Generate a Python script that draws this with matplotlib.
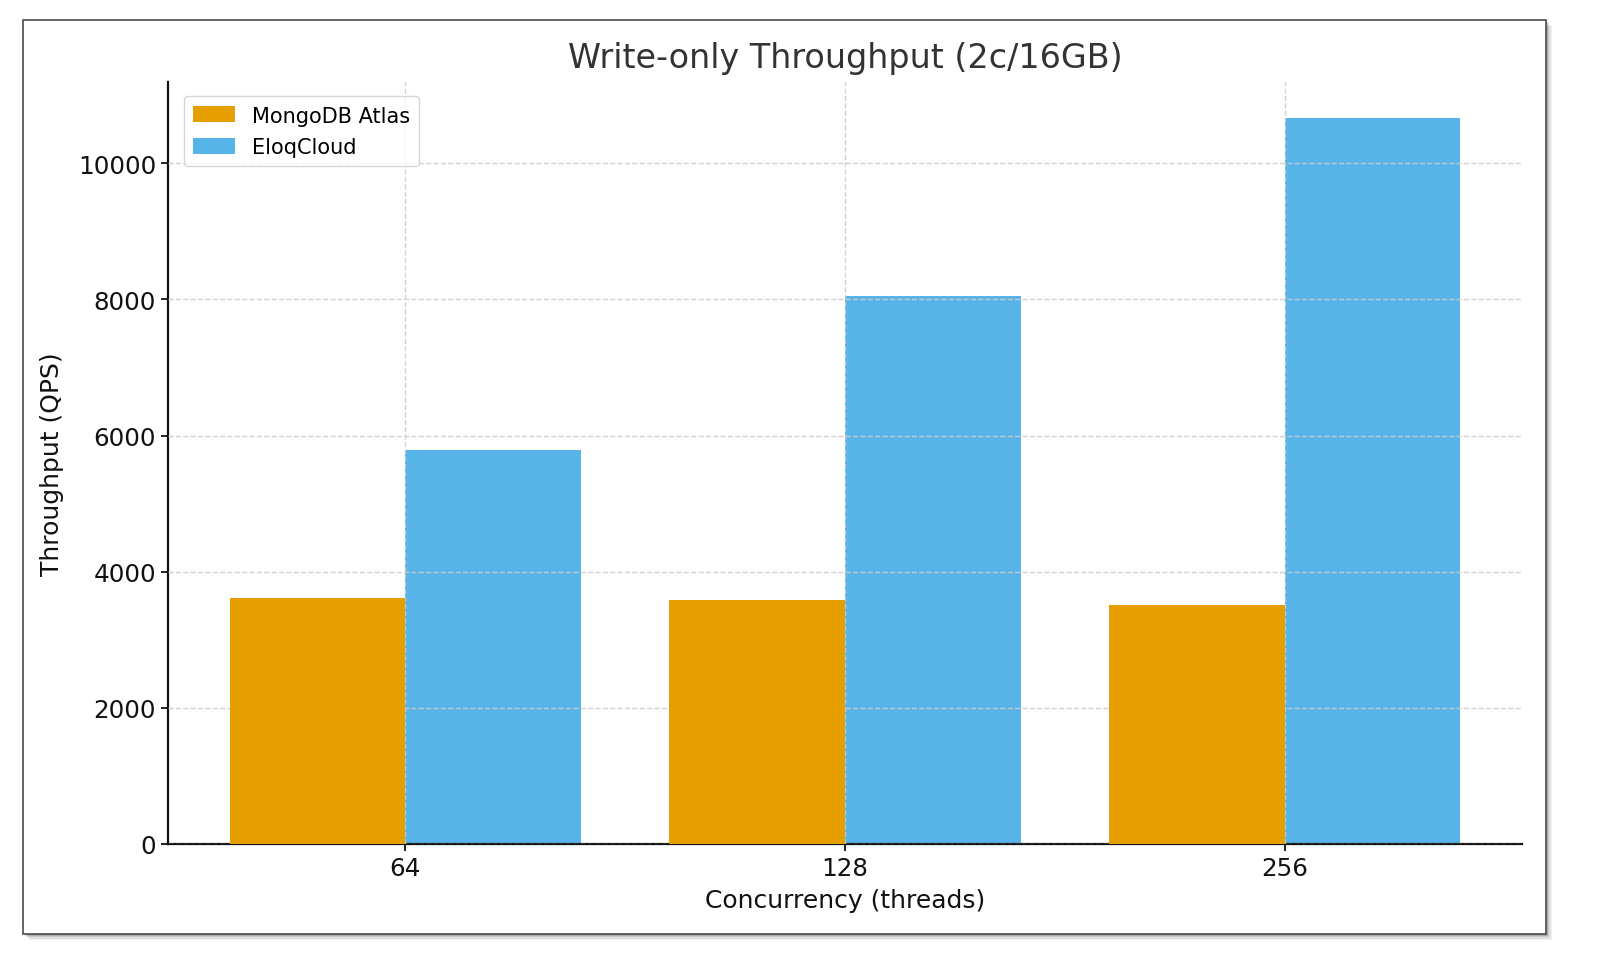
import matplotlib
matplotlib.use("Agg")
import matplotlib.pyplot as plt
from matplotlib.patches import Rectangle
import numpy as np

categories = ["64", "128", "256"]
mongodb_atlas = [3615, 3585, 3510]
eloqcloud = [5790, 8050, 10660]
series_names = ["MongoDB Atlas", "EloqCloud"]
colors = ["#E69F00", "#56B4E9"]

W, H = 1600, 979
fig = plt.figure(figsize=(W / 100, H / 100), dpi=100)
fig.patch.set_facecolor("white")

# outer frame with soft shadow
fx0, fx1, fy_top, fy_bot = 23, 1546, 21, 935
for i, a in enumerate([0.05, 0.07, 0.10, 0.14]):
    off = 6 - i * 1.3
    fig.patches.append(Rectangle(((fx0 + off) / W, (H - fy_bot - off) / H),
                                 (fx1 - fx0) / W, (fy_bot - fy_top) / H,
                                 transform=fig.transFigure, facecolor="black",
                                 edgecolor="none", alpha=a, zorder=-3))
fig.patches.append(Rectangle((fx0 / W, (H - fy_bot) / H), (fx1 - fx0) / W,
                             (fy_bot - fy_top) / H, transform=fig.transFigure,
                             facecolor="white", edgecolor="#4a4a4a",
                             linewidth=1.2, zorder=-2))

ax = fig.add_axes([168 / W, (H - 845) / H, (1522 - 168) / W, (845 - 83) / H])
ax.set_zorder(1)
ax.set_facecolor("none")

x = np.arange(len(categories))
width = 0.4
ax.bar(x - width / 2, mongodb_atlas, width, color=colors[0], label=series_names[0],
       zorder=3, linewidth=0)
ax.bar(x + width / 2, eloqcloud, width, color=colors[1], label=series_names[1],
       zorder=1, linewidth=0)

ax.set_xticks(x)
ax.set_xticklabels(categories)
ax.set_axisbelow(False)
ax.grid(True, linestyle="--", color="#cccccc", linewidth=1.0, alpha=0.9)

for s in ["top", "right"]:
    ax.spines[s].set_visible(False)
for s in ["left", "bottom"]:
    ax.spines[s].set_linewidth(1.6)
    ax.spines[s].set_color("#111111")

ax.tick_params(axis="both", labelsize=17.7, width=1.3, length=5, colors="#111111")
ax.set_xlabel("Concurrency (threads)", fontsize=18, color="#111111", labelpad=6)
ax.set_ylabel("Throughput (QPS)", fontsize=18, color="#111111", labelpad=10)
ax.set_title("Write-only Throughput (2c/16GB)", fontsize=24, color="#333333", pad=11)

leg = ax.legend(loc="upper left", fontsize=15, frameon=True, framealpha=0.8,
                edgecolor="#cccccc", handlelength=2.0, handleheight=0.8,
                borderpad=0.45, labelspacing=0.55,
                bbox_to_anchor=(0.004, 0.995))

fig.savefig("out.png", dpi=100, facecolor="white")
